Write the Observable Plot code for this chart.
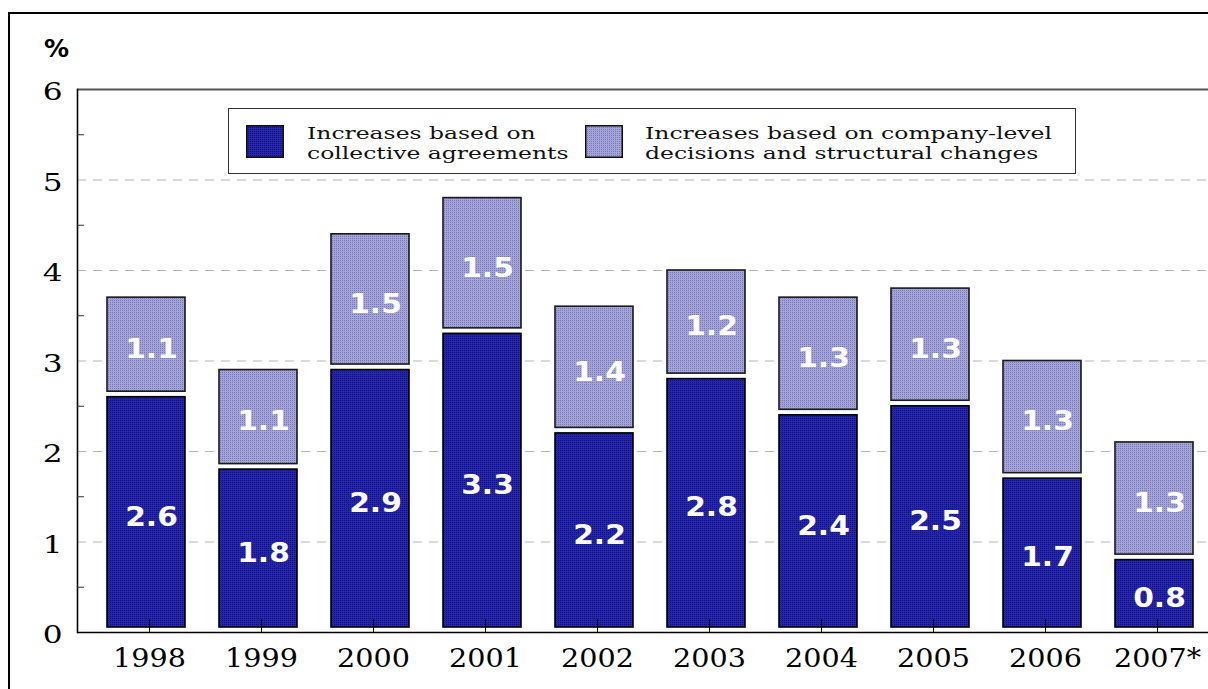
<!DOCTYPE html>
<html><head><meta charset="utf-8">
<script src="https://cdn.jsdelivr.net/npm/d3@7"></script>
<script src="https://cdn.jsdelivr.net/npm/@observablehq/plot@0.6"></script>
<style>
html,body{margin:0;padding:0;background:#fff;overflow:hidden;width:1208px;height:689px}
#wrap{position:relative;width:1208px;height:689px;overflow:hidden}
#chart{position:absolute;left:0;top:0}
#border{position:absolute;left:8px;top:12px;width:1400px;height:900px;border-top:2px solid #000;border-left:2px solid #000;pointer-events:none}
#unit{position:absolute;left:44px;top:36px;font:bold 25px/1 "DejaVu Sans";color:#000}
#legend{position:absolute;left:228px;top:108px;width:848px;height:66px;box-sizing:border-box;border:1.5px solid #333;background:#fff;font-family:"DejaVu Serif"}
.sw{position:absolute;top:15.5px;width:38px;height:33px}
.lt{position:absolute;top:14px;font-size:17px;line-height:20px;white-space:nowrap;transform-origin:left top;color:#111}
</style>
</head><body>
<svg width="0" height="0" style="position:absolute">
  <defs>
    <pattern id="darkPat" width="2" height="2" patternUnits="userSpaceOnUse">
      <rect width="2" height="2" fill="#2626ad"/>
      <rect width="1" height="1" fill="#111178"/>
    </pattern>
    <pattern id="lightPat" width="2" height="2" patternUnits="userSpaceOnUse">
      <rect width="2" height="2" fill="#a4a4d8"/>
      <rect width="1" height="1" fill="#7878b8"/>
    </pattern>
  </defs>
</svg>
<div id="wrap">
  <div id="chart"></div>
  <div id="border"></div>
  <div id="unit"></div>
  <div id="legend"></div>
</div>
<script>
// ---- data ----
const years = ["1998","1999","2000","2001","2002","2003","2004","2005","2006","2007*"];
const collective = [2.6,1.8,2.9,3.3,2.2,2.8,2.4,2.5,1.7,0.8];
const company    = [1.1,1.1,1.5,1.5,1.4,1.2,1.3,1.3,1.3,1.3];
const yTicks = [0,1,2,3,4,5,6];
const yMinorTicks = [0.5,1.5,2.5,3.5,4.5,5.5];
const gridTicks = [1,2,3,4,5];
const unitLabel = "%";
const seriesNames = [
  ["Increases based on","collective agreements"],
  ["Increases based on company-level","decisions and structural changes"]
];
const seriesFills = ["url(#darkPat)","url(#lightPat)"];

const totals = collective.map((c,i) => +(c + company[i]).toFixed(1));
const fmt = d3.format(".1f");

const plot = Plot.plot({
  width: 1208,
  height: 689,
  marginLeft: 77,
  marginTop: 89,
  marginBottom: 57,
  marginRight: 0,
  style: {fontFamily: "DejaVu Serif", background: "white", color: "#000"},
  x: {domain: years, range: [105, 1195], paddingInner: 0.306, paddingOuter: 0, label: null, axis: null},
  y: {domain: [0, 6], label: null, axis: null},
  marks: [
    Plot.gridY(gridTicks, {stroke: "#b5b5b5", strokeOpacity: 1, strokeWidth: 1.2, strokeDasharray: "9,7"}),
    Plot.ruleY([6], {stroke: "#555", strokeWidth: 2}),
    Plot.barY(years, {x: years, y1: 0, y2: collective, fill: seriesFills[0], stroke: "#000", strokeWidth: 1.6, insetBottom: 5}),
    Plot.barY(years, {x: years, y1: collective, y2: totals, fill: seriesFills[1], stroke: "#1a1a1a", strokeWidth: 1.6, insetBottom: 5.5}),
    Plot.text(years, {x: years, y: collective.map(c => c / 2), text: collective.map(fmt), dx: 5, dy: 2,
      fill: "white", fontFamily: "DejaVu Sans", fontWeight: "bold", fontSize: 27}),
    Plot.text(years, {x: years, y: collective.map((c,i) => c + company[i] / 2), text: company.map(fmt), dx: 5, dy: 2,
      fill: "white", fontFamily: "DejaVu Sans", fontWeight: "bold", fontSize: 27}),
    Plot.ruleY([0], {stroke: "#000", strokeWidth: 1.6}),
    Plot.frame({anchor: "left", stroke: "#000", strokeWidth: 1.6}),
    Plot.axisY({ticks: yTicks, tickFormat: d3.format("d"), tickSize: 0, tickPadding: 15, fontSize: 24, dy: 3, label: null}),
    Plot.axisY({ticks: yMinorTicks, tickSize: 7, dx: 7, tickFormat: () => "", label: null, stroke: "#333"}),
    Plot.axisX({tickSize: 13, dy: -13, dx: 3, tickFormat: () => "", label: null, stroke: "#000"}),
    Plot.axisX({tickSize: 0, tickPadding: 16, dx: 3, fontSize: 26, label: null})
  ]
});
document.getElementById("chart").appendChild(plot);

function stretch(sel, s) {
  plot.querySelectorAll(sel).forEach(t => {
    let tr = t.getAttribute("transform");
    if (!tr) {
      const x = t.getAttribute("x") || 0, y = t.getAttribute("y") || 0;
      t.removeAttribute("x"); t.removeAttribute("y");
      tr = `translate(${x},${y})`;
    }
    t.setAttribute("transform", tr + ` scale(${s},1)`);
  });
}
stretch('g[aria-label="y-axis tick label"] text', 1.3);
stretch('g[aria-label="x-axis tick label"] text', 1.1);
stretch('g[aria-label="text"] text', 1.1);

document.getElementById("unit").textContent = unitLabel;

// legend
const legend = document.getElementById("legend");
const swLeft = [16.5, 355.5], txLeft = [77.5, 415.5];
seriesNames.forEach((lines, i) => {
  const sw = document.createElementNS("http://www.w3.org/2000/svg", "svg");
  sw.setAttribute("class", "sw");
  sw.style.left = swLeft[i] + "px";
  sw.setAttribute("viewBox", "0 0 38 33");
  sw.innerHTML = `<rect x="0.75" y="0.75" width="36.5" height="31.5" fill="${seriesFills[i]}" stroke="#111" stroke-width="1.5"/>`;
  legend.appendChild(sw);
  const tx = document.createElement("div");
  tx.className = "lt";
  tx.style.left = txLeft[i] + "px";
  tx.style.transform = "scaleX(1.38)";
  tx.innerHTML = lines.join("<br>");
  legend.appendChild(tx);
});
</script>
</body></html>
